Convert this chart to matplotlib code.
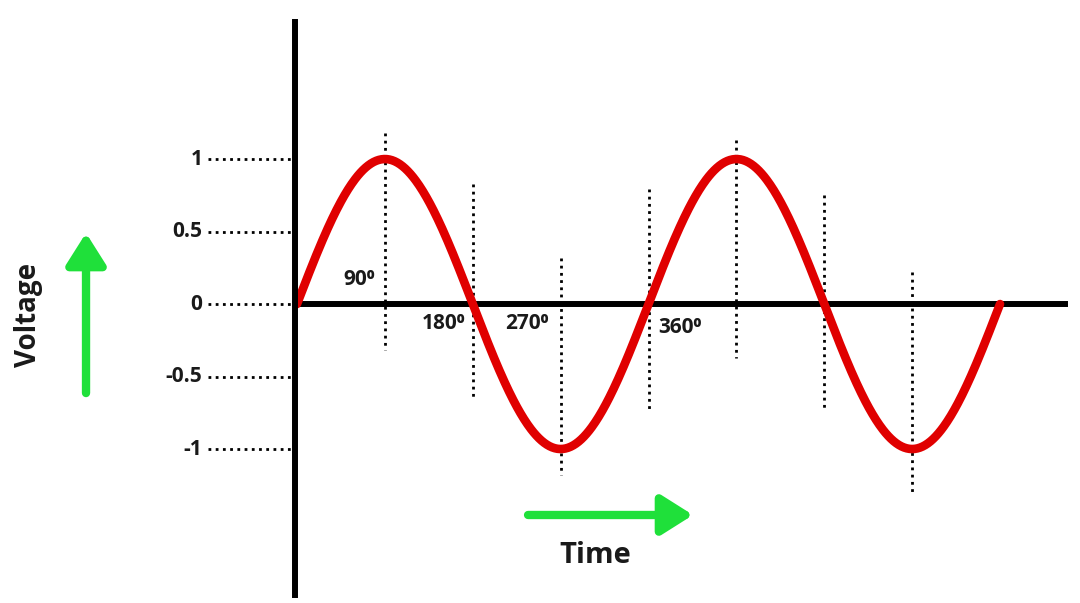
import numpy as np
import matplotlib.pyplot as plt

plt.rcParams['font.family'] = ['Open Sans', 'DejaVu Sans']

# wave: two full cycles, in degrees
angle_end = 720
tick_values = [1, 0.5, 0, -0.5, -1]
tick_labels = ['1', '0.5', '0', '-0.5', '-1']

# dotted guide lines at every quarter cycle (top / bottom in volts)
guide_angles = [90, 180, 270, 360, 450, 540, 630]
guide_top = [1.18, 0.83, 0.32, 0.79, 1.13, 0.75, 0.22]
guide_bottom = [-0.32, -0.66, -1.18, -0.73, -0.37, -0.73, -1.30]

degree_labels = ['90⁰', '180⁰', '270⁰', '360⁰']

RED = '#e00000'
GREEN = '#1fe03a'
TXT = '#1a1a1a'

fig = plt.figure(figsize=(10.8, 6.03), dpi=100)
ax = fig.add_axes([0, 0, 1, 1])
ax.set_xlim(-304.2, 801.9)
ax.set_ylim(-2.062, 2.097)
ax.axis('off')

# sine curve
theta = np.linspace(0, angle_end, 800)
ax.plot(theta, np.sin(np.radians(theta)), color=RED, lw=6.2,
        solid_capstyle='round', zorder=3)

# axes lines
ax.plot([-2, -2], [1.945, -2.007], color='black', lw=4.3, zorder=4)
ax.plot([-2, 787], [0, 0], color='black', lw=4.3, zorder=2)

# dotted guides
for a, t, b in zip(guide_angles, guide_top, guide_bottom):
    ax.plot([a, a], [t, b], color='black', lw=2.0,
            linestyle=(0, (1, 1.6)), zorder=1)

# y ticks as dotted leaders
for v, lab in zip(tick_values, tick_labels):
    ax.plot([-91, -4], [v, v], color='black', lw=2.0,
            linestyle=(0, (1, 1.6)), zorder=1)
    ax.text(-97, v, lab, ha='right', va='center', fontsize=15,
            fontweight='bold', color=TXT)

# degree labels
ax.text(63.5, 0.166, degree_labels[0], ha='center', va='center',
        fontsize=15, fontweight='bold', color=TXT)
ax.text(150.6, -0.131, degree_labels[1], ha='center', va='center',
        fontsize=15, fontweight='bold', color=TXT)
ax.text(235.6, -0.131, degree_labels[2], ha='center', va='center',
        fontsize=15, fontweight='bold', color=TXT)
ax.text(392.3, -0.159, degree_labels[3], ha='center', va='center',
        fontsize=15, fontweight='bold', color=TXT)

# green arrows
arrow_props = dict(arrowstyle='-|>,head_length=0.95,head_width=0.6',
                   color=GREEN, lw=6, shrinkA=0, shrinkB=0,
                   capstyle='round', mutation_scale=20)
ax.annotate('', xy=(-216.1, 0.49), xytext=(-216.1, -0.614),
            arrowprops=arrow_props)
ax.annotate('', xy=(405.6, -1.455), xytext=(236.6, -1.455),
            arrowprops=arrow_props)

ax.text(-275.5, -0.076, 'Voltage', rotation=90, ha='center', va='center',
        fontsize=20, fontweight='bold', color=TXT)
ax.text(305, -1.735, 'Time', ha='center', va='center',
        fontsize=21, fontweight='bold', color=TXT)

fig.savefig('out.png', dpi=100, facecolor='white')
